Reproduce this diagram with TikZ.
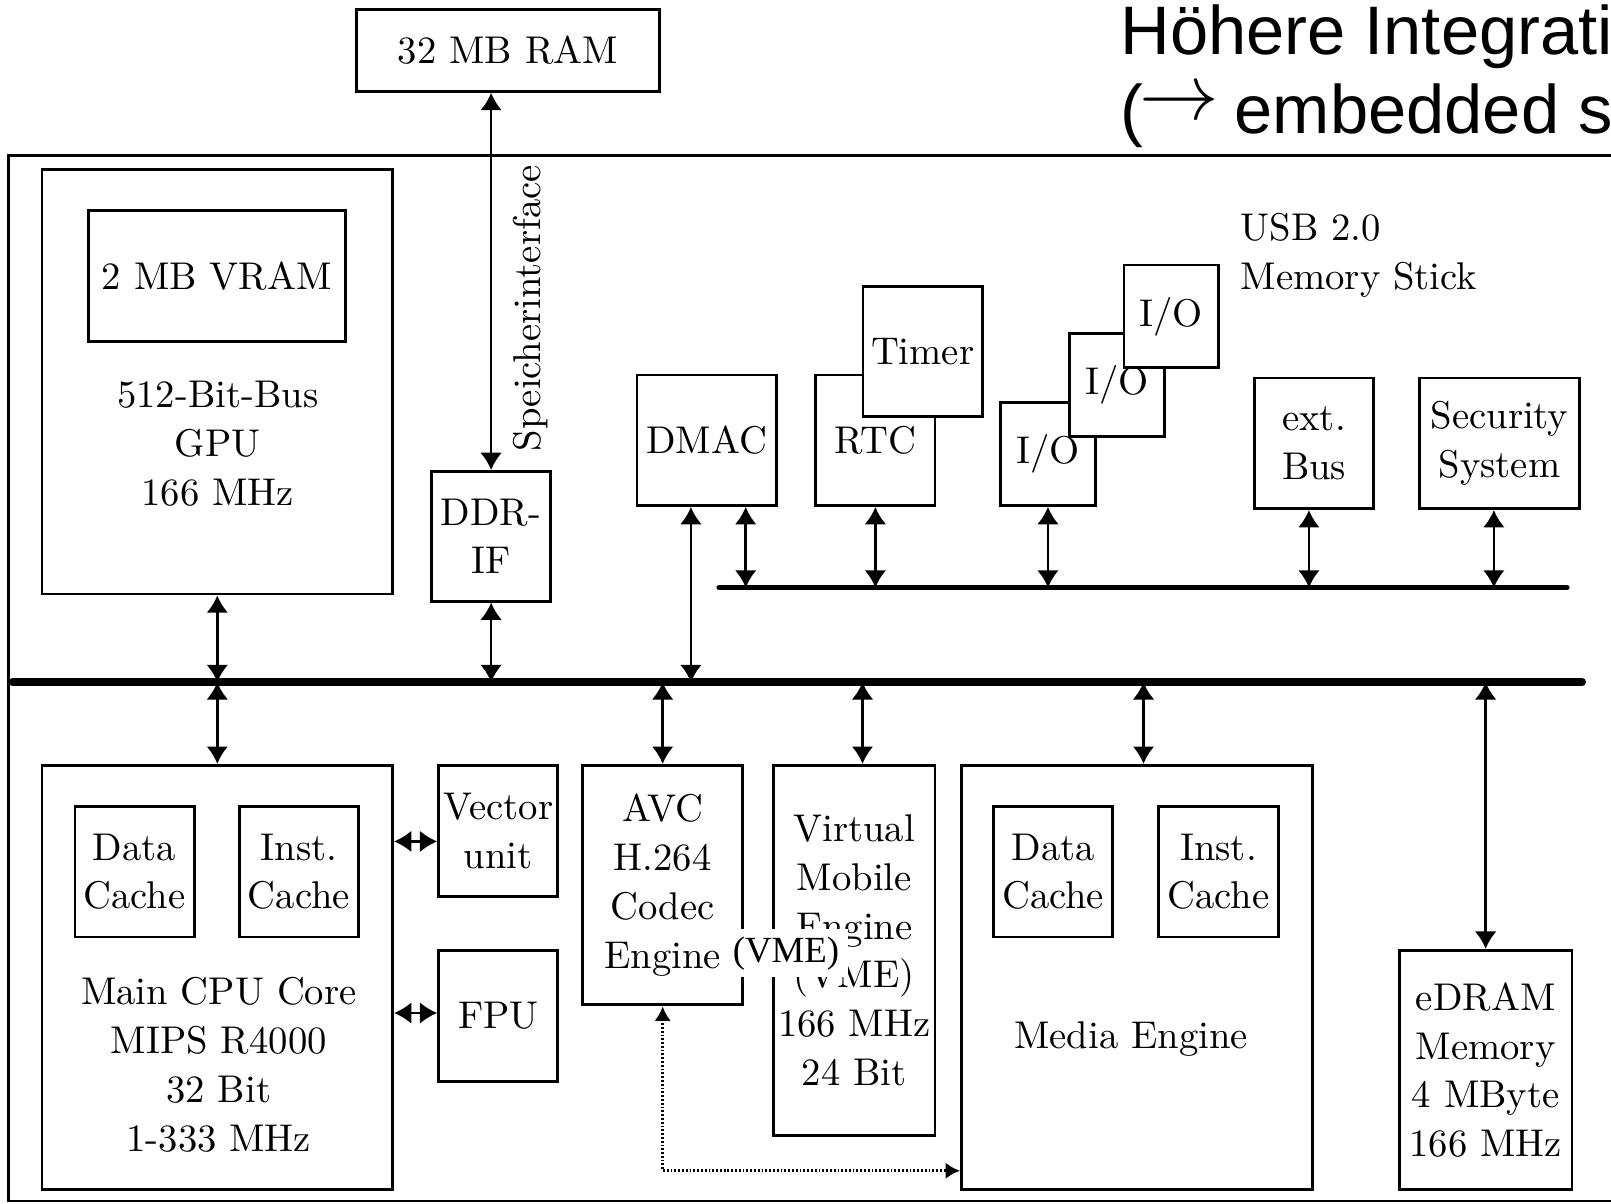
\documentclass[tikz,border=0pt]{standalone}
\usepackage{fontspec}
\newfontfamily\headfont{Liberation Sans}
\newfontfamily\vmefont{Liberation Serif}
\usetikzlibrary{arrows.meta, calc}

\begin{document}
\begin{tikzpicture}[x=0.01cm, y=-0.01cm,
    every node/.style={font=\fontsize{10.7}{13.5}\selectfont},
    blk/.style={draw, line width=0.8pt, fill=white, align=center, inner sep=0pt},
    txt/.style={align=center, inner sep=0pt},
    dbl/.style={{Latex[length=4.8pt,width=6pt]}-{Latex[length=4.8pt,width=6pt]}, line width=0.7pt},
    dotlink/.style={{Latex[length=4pt,width=4.5pt]}-{Latex[length=4pt,width=4.5pt]},
                    line width=0.8pt, dash pattern=on 0.5pt off 0.55pt},
    bus/.style={line width=2.1pt, line cap=round}]
  \useasboundingbox (0,0) rectangle (1568,1171);
  \clip (0,0) rectangle (1568,1171);

  % Title
  \node[anchor=base west, inner sep=0pt, font=\headfont\fontsize{19}{22}\selectfont]
    (head1) at (1090,52.6) {Höhere Integrati};
  \node[anchor=base west, inner sep=0pt, font=\headfont\fontsize{19}{22}\selectfont]
    (head2) at (1090,130)
    {(\kern-1pt\raisebox{4pt}[0pt][0pt]{\resizebox{22pt}{!}{$\rightarrow$}}\kern-1pt{} embedded s};

  % Chip frame and external RAM
  \draw[line width=0.8pt] (8,151) rectangle (1650,1169);
  \node[blk, minimum width=2.95cm, minimum height=0.80cm] (ram) at (494.5,49) {32 MB RAM};

  % GPU
  \node[blk, minimum width=3.41cm, minimum height=4.13cm] (gpu) at (211.5,371.5) {};
  \node[blk, minimum width=2.50cm, minimum height=1.27cm] (vram) at (211,268.5) {2 MB VRAM};
  \node[txt] (gputxt) at (212,432) {512-Bit-Bus\\GPU\\166 MHz};
  \node[blk, minimum width=1.16cm, minimum height=1.26cm] (ddr) at (478,522) {DDR-\\IF};
  \node[inner sep=0pt, rotate=90] (memif) at (516,300) {Speicherinterface};

  % Peripherals
  \node[blk, minimum width=1.36cm, minimum height=1.27cm] (dmac) at (688,428.5) {DMAC};
  \node[blk, minimum width=1.16cm, minimum height=1.27cm] (rtc) at (852,428.5) {RTC};
  \node[blk, minimum width=1.16cm, minimum height=1.26cm] (timer) at (898,342) {Timer};
  \node[blk, minimum width=0.92cm, minimum height=1.00cm] (io1) at (1020,442) {I/O};
  \node[blk, minimum width=0.92cm, minimum height=1.00cm] (io2) at (1087,375) {I/O};
  \node[blk, minimum width=0.92cm, minimum height=1.00cm] (io3) at (1140,308) {I/O};
  \node[txt, align=left, anchor=west] (usb) at (1207,248.5) {USB 2.0\\Memory Stick};
  \node[blk, minimum width=1.16cm, minimum height=1.27cm] (extbus) at (1279,431.5) {ext.\\Bus};
  \node[blk, minimum width=1.56cm, minimum height=1.27cm] (secsys) at (1459.5,431.5) {Security\\System};

  % CPU
  \node[blk, minimum width=3.41cm, minimum height=4.13cm] (cpu) at (211.5,951.5) {};
  \node[blk, minimum width=1.16cm, minimum height=1.27cm] (cdc) at (131,848.5) {Data\\Cache};
  \node[blk, minimum width=1.16cm, minimum height=1.27cm] (cic) at (291,848.5) {Inst.\\Cache};
  \node[txt] (cputxt) at (213,1036.5) {Main CPU Core\\MIPS R4000\\32 Bit\\1-333 MHz};
  \node[blk, minimum width=1.16cm, minimum height=1.27cm] (vec) at (485,809) {Vector\\unit};
  \node[blk, minimum width=1.16cm, minimum height=1.28cm] (fpu) at (485,989) {FPU};

  % Engines
  \node[blk, minimum width=1.56cm, minimum height=2.33cm] (avc) at (645,861.5) {AVC\\H.264\\Codec\\Engine};
  \node[blk, minimum width=1.57cm, minimum height=3.60cm] (vme) at (831.5,925)
    {Virtual\\Mobile\\Engine\\(VME)\\166 MHz\\24 Bit};
  \node[blk, minimum width=3.41cm, minimum height=4.13cm] (media) at (1106.5,951.5) {};
  \node[blk, minimum width=1.16cm, minimum height=1.27cm] (mdc) at (1025,848.5) {Data\\Cache};
  \node[blk, minimum width=1.16cm, minimum height=1.27cm] (mic) at (1186,848.5) {Inst.\\Cache};
  \node[txt] (mediatxt) at (1101,1011) {Media Engine};
  \node[blk, minimum width=1.68cm, minimum height=2.33cm] (edram) at (1446,1041.5)
    {eDRAM\\Memory\\4 MByte\\166 MHz};

  % Buses
  \coordinate (busL) at (12,664);
  \coordinate (busR) at (1540,664);
  \coordinate (sbusL) at (700,572);
  \coordinate (sbusR) at (1525,572);

  \coordinate (dmacL) at ($(dmac.south)+(-15.5,0)$);
  \coordinate (dmacR) at ($(dmac.south)+(37.8,0)$);
  \coordinate (extS) at ($(extbus.south)+(-5,0)$);
  \coordinate (secS) at ($(secsys.south)+(-5.5,0)$);
  \coordinate (vmeN) at ($(vme.north)+(8,0)$);
  \coordinate (mediaN) at ($(media.north)+(6.5,0)$);
  \coordinate (vecW) at ($(vec.west)+(0,10)$);
  \coordinate (fpuW) at ($(fpu.west)+(0,-3)$);
  \coordinate (dotC) at ($(media.south west)+(0,-20)$);

  % Links
  \draw[dbl] (ddr.north |- ram.south) -- (ddr.north);
  \draw[dbl] (gpu.south) -- (gpu.south |- busL);
  \draw[dbl] (ddr.south) -- (ddr.south |- busL);
  \draw[dbl] (dmacL) -- (dmacL |- busL);
  \draw[dbl] (dmacR) -- (dmacR |- sbusL);
  \draw[dbl] (rtc.south) -- (rtc.south |- sbusL);
  \draw[dbl] (io1.south) -- (io1.south |- sbusL);
  \draw[dbl] (extS) -- (extS |- sbusL);
  \draw[dbl] (secS) -- (secS |- sbusL);
  \draw[dbl] (cpu.north |- busL) -- (cpu.north);
  \draw[dbl] (avc.north |- busL) -- (avc.north);
  \draw[dbl] (vmeN |- busL) -- (vmeN);
  \draw[dbl] (mediaN |- busL) -- (mediaN);
  \draw[dbl] (edram.north |- busL) -- (edram.north);
  \draw[dbl] (cpu.east |- vecW) -- (vecW);
  \draw[dbl] (cpu.east |- fpuW) -- (fpuW);
  \draw[dotlink] (avc.south) |- (dotC);

  \draw[bus] (busL) -- (busR);
  \draw[bus, line width=1.55pt] (sbusL) -- (sbusR);

  % Overprinted label
  \node[fill=white, inner xsep=2.4pt, inner ysep=2pt,
        font=\vmefont\fontsize{10.2}{12}\selectfont] (vmelabel) at (765,928) {(VME)};
\end{tikzpicture}
\end{document}
